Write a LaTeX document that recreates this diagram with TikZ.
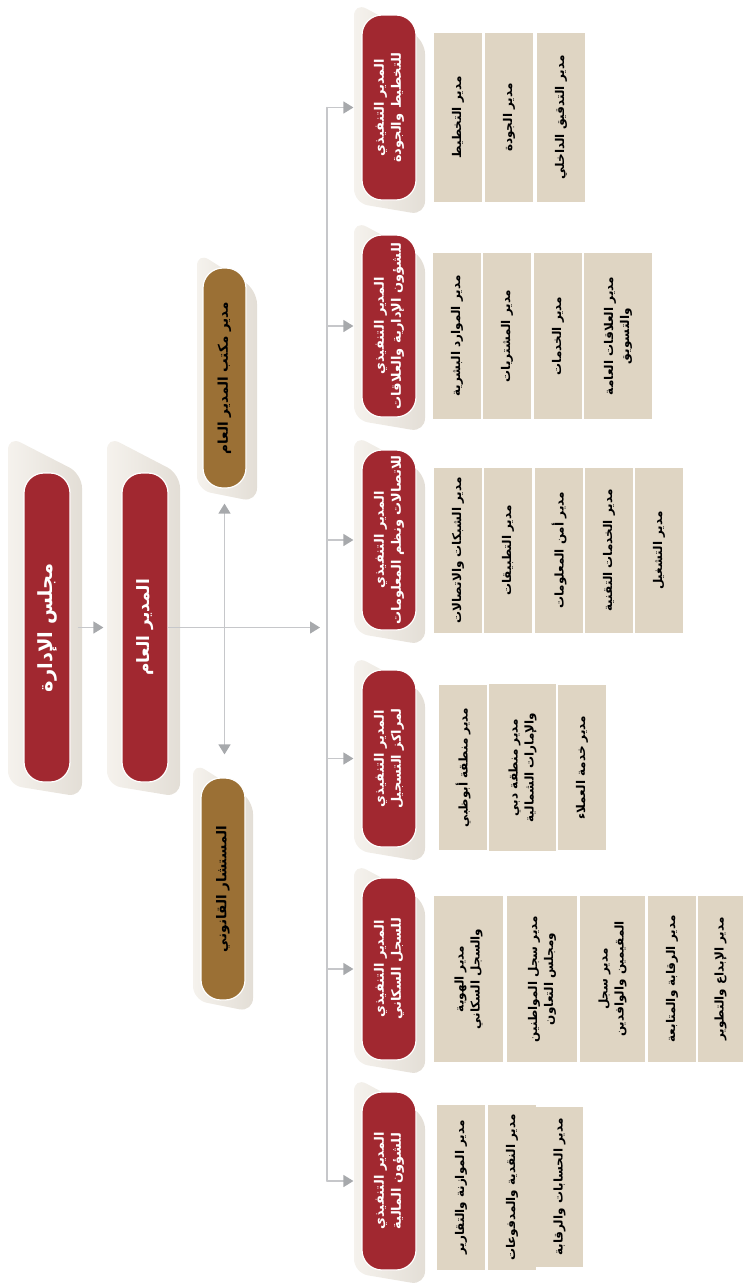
\documentclass[tikz,border=0pt]{standalone}
\usepackage{fontspec}
\usepackage{tikz}
\usetikzlibrary{arrows.meta}
\TeXXeTstate=1
\newfontfamily\arfont[Script=Arabic]{DejaVu Sans}
\newcommand{\artxt}[1]{\beginR #1\endR}
\definecolor{boardred}{HTML}{A12830}
\definecolor{officebrown}{HTML}{9B7035}
\definecolor{unitbeige}{HTML}{DFD5C3}
\definecolor{backlight}{HTML}{F5F2ED}
\definecolor{backdark}{HTML}{E3DED6}
\definecolor{linkgray}{HTML}{C6C7CA}
\definecolor{tipgray}{HTML}{A7A9AC}
\tikzset{
  pill/.style={rectangle, rounded corners=20pt, draw=white, line width=1.2pt, rotate=90, align=center, inner sep=2pt},
  redpill/.style={pill, fill=boardred, text=white, font=\arfont\bfseries\fontsize{13}{17}\selectfont},
  brownpill/.style={pill, fill=officebrown, text=black, font=\arfont\bfseries\fontsize{13.5}{16}\selectfont},
  unit/.style={rectangle, fill=unitbeige, rotate=90, align=center, inner sep=2pt, text=black, font=\arfont\bfseries\fontsize{12}{16}\selectfont},
  backdrop/.style={left color=backlight, right color=backdark, rounded corners=14pt},
  link/.style={draw=linkgray, line width=1.4pt},
}
\newcommand{\backshape}[4]{\path[backdrop] (#1,#2) -- (#3,#2+38) -- (#3,#4) -- (#1,#4-12) -- cycle;}

\begin{document}
\begin{tikzpicture}[x=1pt,y=-1pt,line cap=round,line join=round,>={Triangle[length=10pt,width=12pt,color=tipgray]}]
  \useasboundingbox (0,0) rectangle (743,1285);

  % light backdrops behind the pills
  \backshape{8}{436}{82}{797}
  \backshape{107}{436}{180}{797}
  \backshape{197}{252}{257}{502}
  \backshape{193}{762}{253}{1012}
  \backshape{354}{2}{425}{215}
  \backshape{354}{220}{425}{432}
  \backshape{354}{435}{425}{645}
  \backshape{354}{655}{425}{862}
  \backshape{354}{863}{425}{1075}
  \backshape{354}{1077}{425}{1285}

  % board and general manager
  \node[redpill, minimum width=309pt, minimum height=46pt, font=\arfont\bfseries\fontsize{19.5}{22}\selectfont] (board) at (47,627.5) {\artxt{مجلس الإدارة}};
  \node[redpill, minimum width=309pt, minimum height=46pt, font=\arfont\bfseries\fontsize{17}{20}\selectfont] (gm) at (145,627.5) {\artxt{المدير العام}};
  \node[brownpill, minimum width=220pt, minimum height=43pt] (office) at (224.5,378) {\artxt{مدير مكتب المدير العام}};
  \node[brownpill, minimum width=222pt, minimum height=44pt] (legal) at (223,889) {\artxt{المستشار القانوني}};

  % executive directors
  \node[redpill, minimum width=185pt, minimum height=54pt] (e1) at (389,107.5) {\artxt{المدير التنفيذي}\\\artxt{للتخطيط والجودة}};
  \node[redpill, minimum width=182pt, minimum height=54pt] (e2) at (389,326) {\artxt{المدير التنفيذي}\\\artxt{للشؤون الإدارية والعلاقات}};
  \node[redpill, minimum width=180pt, minimum height=54pt] (e3) at (389,540) {\artxt{المدير التنفيذي}\\\artxt{للاتصالات ونظم المعلومات}};
  \node[redpill, minimum width=177pt, minimum height=54pt] (e4) at (389,758.5) {\artxt{المدير التنفيذي}\\\artxt{لمراكز التسجيل}};
  \node[redpill, minimum width=182pt, minimum height=54pt] (e5) at (389,969) {\artxt{المدير التنفيذي}\\\artxt{للسجل السكاني}};
  \node[redpill, minimum width=178pt, minimum height=54pt] (e6) at (389,1181) {\artxt{المدير التنفيذي}\\\artxt{للشؤون المالية}};

  % units
  \node[unit, minimum width=169pt, minimum height=48pt] (u11) at (458,117.5) {\artxt{مدير التخطيط}};
  \node[unit, minimum width=169pt, minimum height=48pt] (u12) at (509,117.5) {\artxt{مدير الجودة}};
  \node[unit, minimum width=169pt, minimum height=48pt] (u13) at (561,117.5) {\artxt{مدير التدقيق الداخلي}};

  \node[unit, minimum width=166pt, minimum height=48pt] (u21) at (457,336) {\artxt{مدير الموارد البشرية}};
  \node[unit, minimum width=166pt, minimum height=48pt] (u22) at (507,336) {\artxt{مدير المشتريات}};
  \node[unit, minimum width=166pt, minimum height=48pt] (u23) at (558,336) {\artxt{مدير الخدمات}};
  \node[unit, minimum width=166pt, minimum height=68pt] (u24) at (618,336) {\artxt{مدير العلاقات العامة}\\\artxt{والتسويق}};

  \node[unit, minimum width=165pt, minimum height=48pt] (u31) at (458,550.5) {\artxt{مدير الشبكات والاتصالات}};
  \node[unit, minimum width=165pt, minimum height=48pt] (u32) at (508,550.5) {\artxt{مدير التطبيقات}};
  \node[unit, minimum width=165pt, minimum height=48pt] (u33) at (559,550.5) {\artxt{مدير أمن المعلومات}};
  \node[unit, minimum width=165pt, minimum height=48pt] (u34) at (609,550.5) {\artxt{مدير الخدمات التقنية}};
  \node[unit, minimum width=165pt, minimum height=48pt] (u35) at (659,550.5) {\artxt{مدير التشغيل}};

  \node[unit, minimum width=165pt, minimum height=48pt] (u41) at (463,767.5) {\artxt{مدير منطقة أبوظبي}};
  \node[unit, minimum width=167pt, minimum height=67pt] (u42) at (522.5,767.5) {\artxt{مدير منطقة دبي}\\\artxt{والإمارات الشمالية}};
  \node[unit, minimum width=165pt, minimum height=48pt] (u43) at (582,767.5) {\artxt{مدير خدمة العملاء}};

  \node[unit, minimum width=166pt, minimum height=69pt] (u51) at (468.5,979) {\artxt{مدير الهوية}\\\artxt{والسجل السكاني}};
  \node[unit, minimum width=166pt, minimum height=70pt] (u52) at (542,979) {\artxt{مدير سجل المواطنين}\\\artxt{ومجلس التعاون}};
  \node[unit, minimum width=166pt, minimum height=65pt] (u53) at (612.5,979) {\artxt{مدير سجل}\\\artxt{المقيمين والوافدين}};
  \node[unit, minimum width=166pt, minimum height=48pt] (u54) at (672,979) {\artxt{مدير الرقابة والمتابعة}};
  \node[unit, minimum width=166pt, minimum height=45pt] (u55) at (720.5,979) {\artxt{مدير الإبداع والتطوير}};

  \node[unit, minimum width=165pt, minimum height=48pt] (u61) at (461,1187.5) {\artxt{مدير الموازنة والتقارير}};
  \node[unit, minimum width=165pt, minimum height=48pt] (u62) at (512,1187.5) {\artxt{مدير النقدية والمدفوعات}};
  \node[unit, minimum width=160pt, minimum height=47pt] (u63) at (559.5,1187) {\artxt{مدير الحسابات والرقابة}};

  % connectors
  \coordinate (hub) at (327,627.5);
  \draw[link,->,shorten <=8pt,shorten >=18pt] (board.south) -- (gm.north);
  \draw[link,->,shorten >=7pt] (gm.south) -- (hub);
  \draw[link,<->,shorten <=15pt,shorten >=23pt] (office.west) -- (office.west |- legal.east);
  \draw[link] (e1.north -| hub) -- (e6.north -| hub);
  \foreach \n in {e1,e2,e3,e4,e5,e6}{
    \draw[link,->,shorten >=8pt] (\n.north -| hub) -- (\n.north);
  }
\end{tikzpicture}
\end{document}
